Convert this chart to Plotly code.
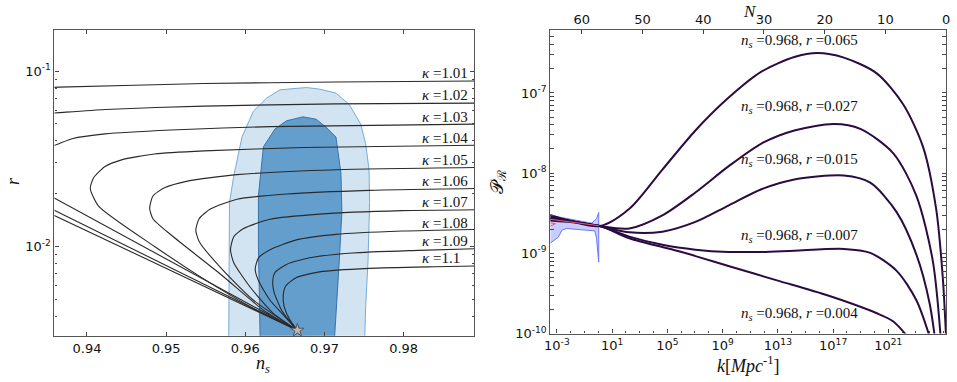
import plotly.graph_objects as go

# ---------------- Left panel data (n_s , r) ----------------
kappa_labels = ["1.01", "1.02", "1.03", "1.04", "1.05", "1.06", "1.07", "1.08", "1.09", "1.1"]
star_ns, star_r = 0.96658, 0.00332

# curves: upper branch (from right edge towards turning point) then lower branch to the star
k101_ns = [0.98896, 0.97146, 0.95479, 0.93646, 0.9355, None, 0.9355, star_ns]
k101_r = [0.0879, 0.0868, 0.0850, 0.0811, 0.0808, None, 0.0193, star_r]
k102_ns = [0.98896, 0.97146, 0.95479, 0.94229, 0.93646, 0.9355, None, 0.9355, star_ns]
k102_r = [0.0657, 0.0651, 0.0632, 0.0605, 0.0580, 0.0576, None, 0.0164, star_r]
k103_ns = [0.98896, 0.96313, 0.95063, 0.94229, 0.93813, 0.93646, 0.9355, None, 0.9355, star_ns]
k103_r = [0.0499, 0.0483, 0.0462, 0.0439, 0.0412, 0.0386, 0.0372, None, 0.0153, star_r]
k104_ns = [0.98896, 0.96729, 0.95479, 0.94854, 0.94438, 0.94229, 0.94083, 0.94042, 0.94146, 0.94854, 0.95479, 0.96104, star_ns]
k104_r = [0.0378, 0.0367, 0.0351, 0.0337, 0.0312, 0.0286, 0.0246, 0.0214, 0.0170, 0.0100, 0.00651, 0.00443, star_r]
k105_ns = [0.98896, 0.97146, 0.95896, 0.95271, 0.94979, 0.94833, 0.94792, 0.94833, 0.95063, 0.95688, 0.96229, star_ns]
k105_r = [0.0282, 0.0274, 0.0257, 0.0236, 0.0216, 0.0194, 0.0165, 0.0144, 0.01162, 0.00694, 0.00433, star_r]
k106_ns = [0.98896, 0.97563, 0.96521, 0.95896, 0.95563, 0.95417, 0.95375, 0.95417, 0.95688, 0.96104, star_ns]
k106_r = [0.0214, 0.0209, 0.0199, 0.0186, 0.0164, 0.0144, 0.01239, 0.01067, 0.00757, 0.00493, star_r]
k107_ns = [0.98896, 0.97979, 0.96938, 0.96313, 0.95979, 0.95854, 0.95813, 0.95854, 0.96063, 0.96354, star_ns]
k107_r = [0.0162, 0.0160, 0.0153, 0.0143, 0.01266, 0.01137, 0.00958, 0.00807, 0.00585, 0.00415, star_r]
k108_ns = [0.98896, 0.97979, 0.97146, 0.96646, 0.96313, 0.96167, 0.96125, 0.96167, 0.96313, 0.9650, star_ns]
k108_r = [0.0125, 0.01224, 0.01172, 0.0109, 0.00958, 0.00861, 0.00741, 0.00637, 0.00493, 0.00398, star_r]
k109_ns = [0.98896, 0.98188, 0.97354, 0.96813, 0.96521, 0.96375, 0.96346, 0.96363, 0.96458, 0.96563, star_ns]
k109_r = [0.00971, 0.0095, 0.00918, 0.00861, 0.0079, 0.0071, 0.00624, 0.00549, 0.00433, 0.00373, star_r]
k110_ns = [0.98896, 0.98396, 0.97563, 0.96938, 0.96646, 0.96513, 0.96479, 0.96492, 0.96563, star_ns]
k110_r = [0.00773, 0.00766, 0.0075, 0.00716, 0.00665, 0.00597, 0.00526, 0.00452, 0.00381, star_r]

kappa_curves = [(k101_ns, k101_r), (k102_ns, k102_r), (k103_ns, k103_r), (k104_ns, k104_r),
                (k105_ns, k105_r), (k106_ns, k106_r), (k107_ns, k107_r), (k108_ns, k108_r),
                (k109_ns, k109_r), (k110_ns, k110_r)]
kappa_label_logr = [-1.013, -1.138, -1.259, -1.384, -1.507, -1.628, -1.749, -1.864, -1.969, -2.066]

outer_ns = [0.95791, 0.95791, 0.95800, 0.95854, 0.95958, 0.96104, 0.96270, 0.96438, 0.96770, 0.96938,
            0.97146, 0.97313, 0.97458, 0.97520, 0.97563, 0.97570, 0.97550, 0.97520, 0.97508]
outer_r = [0.0029, 0.0100, 0.0178, 0.0252, 0.0421, 0.0593, 0.0703, 0.0783, 0.0807, 0.0790,
           0.0750, 0.0645, 0.0499, 0.0386, 0.0274, 0.0178, 0.0082, 0.0045, 0.0029]
inner_ns = [0.96188, 0.96166, 0.96166, 0.96229, 0.96375, 0.96520, 0.96729, 0.96895, 0.97020,
            0.97145, 0.97208, 0.97220, 0.97187, 0.97125]
inner_r = [0.0029, 0.0100, 0.0195, 0.0370, 0.0468, 0.0521, 0.0549, 0.0532, 0.0479,
           0.0421, 0.0262, 0.0157, 0.00824, 0.0029]

# ---------------- Right panel data (log10 k , log10 P_R) ----------------
r_labels = ["0.065", "0.027", "0.015", "0.007", "0.004"]
lk_065 = [-3.48, 0.10, 2.25, 4.64, 7.03, 9.42, 11.81, 14.19, 15.87, 17.78, 20.16, 22.07, 23.51, 24.46, 24.94, 25.25]
lp_065 = [-8.52, -8.66, -8.445, -7.956, -7.468, -7.061, -6.735, -6.552, -6.503, -6.56, -6.756, -7.142, -7.672, -8.445, -9.30, -10.3]
lk_027 = [-3.48, 0.10, 2.25, 4.64, 7.03, 9.42, 11.81, 14.19, 17.06, 18.97, 21.36, 23.03, 24.22, 24.90]
lp_027 = [-8.54, -8.66, -8.689, -8.526, -8.241, -7.916, -7.631, -7.468, -7.387, -7.448, -7.753, -8.282, -9.096, -10.3]
lk_015 = [-3.48, 0.10, 2.25, 4.64, 7.03, 9.42, 11.81, 14.19, 17.78, 19.69, 21.60, 23.03, 23.99, 24.55]
lp_015 = [-8.555, -8.66, -8.738, -8.730, -8.608, -8.404, -8.201, -8.079, -8.030, -8.119, -8.486, -9.015, -9.625, -10.3]
lk_007 = [-3.48, 0.10, 2.25, 4.64, 7.03, 9.42, 11.81, 14.19, 17.78, 19.69, 21.60, 23.03, 24.10]
lp_007 = [-8.57, -8.66, -8.791, -8.893, -8.954, -8.982, -8.982, -8.966, -8.945, -8.994, -9.218, -9.584, -10.1]
lk_004 = [-3.48, 0.10, 2.25, 5.84, 9.42, 13.00, 16.58, 20.16, 21.36, 22.45]
lp_004 = [-8.59, -8.66, -8.811, -8.974, -9.157, -9.340, -9.523, -9.747, -9.849, -10.05]
spectra = [(lk_065, lp_065), (lk_027, lp_027), (lk_015, lp_015), (lk_007, lp_007), (lk_004, lp_004)]
label_logp = [-6.357, -7.171, -7.842, -8.779, -9.755]

band_lk = [-3.48, -2.52, -1.33, -0.47, -0.13, 0.03, 0.03, -0.13, -0.25, -1.33, -2.30, -2.62, -2.9, -3.48]
band_lp = [-8.526, -8.559, -8.600, -8.624, -8.567, -8.49, -9.11, -8.811, -8.72, -8.70, -8.69, -8.709, -8.80, -8.872]
red1_lk = [-3.48, 0.03]
red1_lp = [-8.575, -8.655]
red2_lk = [-3.48, -3.10, -3.48]
red2_lp = [-8.62, -8.63, -8.66]

N_ticks = [60, 50, 40, 30, 20, 10, 0]
k_tick_exp = [-3, 1, 5, 9, 13, 17, 21]


def pw(vals):
    return [10.0 ** v for v in vals]


# ---------------- Figure ----------------
fig = go.Figure()

fig.add_trace(go.Scatter(x=outer_ns, y=outer_r, fill="toself", fillcolor="rgb(210,227,241)",
                         line=dict(color="rgb(120,172,214)", width=1), mode="lines",
                         xaxis="x", yaxis="y", showlegend=False, hoverinfo="skip"))
fig.add_trace(go.Scatter(x=inner_ns, y=inner_r, fill="toself", fillcolor="rgb(100,158,204)",
                         line=dict(color="rgb(55,115,170)", width=1), mode="lines",
                         xaxis="x", yaxis="y", showlegend=False, hoverinfo="skip"))
for cx, cy in kappa_curves:
    fig.add_trace(go.Scatter(x=cx, y=cy, mode="lines", line=dict(color="#2a2a2a", width=1.1, shape="spline", smoothing=0.6),
                             connectgaps=False, xaxis="x", yaxis="y", showlegend=False, hoverinfo="skip"))
fig.add_trace(go.Scatter(x=[star_ns], y=[star_r], mode="markers",
                         marker=dict(symbol="star", size=10, color="#b8b8b8", line=dict(color="#555", width=1)),
                         cliponaxis=False, xaxis="x", yaxis="y", showlegend=False, hoverinfo="skip"))

fig.add_trace(go.Scatter(x=pw(band_lk), y=pw(band_lp), fill="toself",
                         fillcolor="rgba(120,130,250,0.40)", line=dict(color="rgb(110,120,240)", width=1),
                         mode="lines", xaxis="x2", yaxis="y2", showlegend=False, hoverinfo="skip"))
for lk, lp in spectra:
    fig.add_trace(go.Scatter(x=pw(lk), y=pw(lp), mode="lines",
                             line=dict(color="#2b0c40", width=2, shape="spline", smoothing=0.8),
                             xaxis="x2", yaxis="y2", showlegend=False, hoverinfo="skip"))
fig.add_trace(go.Scatter(x=pw(red1_lk), y=pw(red1_lp), mode="lines", hoverinfo="skip",
                         line=dict(color="rgb(235,90,110)", width=1), xaxis="x2", yaxis="y2", showlegend=False))
fig.add_trace(go.Scatter(x=pw(red2_lk), y=pw(red2_lp), mode="lines", hoverinfo="skip",
                         line=dict(color="rgb(235,90,110)", width=1), xaxis="x2", yaxis="y2", showlegend=False))
# empty trace so that the top N axis is drawn
fig.add_trace(go.Scatter(x=[], y=[], xaxis="x3", yaxis="y2", showlegend=False, hoverinfo="skip"))

tickfont = dict(family="DejaVu Sans", size=13, color="#111")
axcommon = dict(showgrid=False, zeroline=False, showline=True, linecolor="#555", linewidth=1.2,
                ticks="inside", tickcolor="#444", ticklen=4, tickwidth=1, tickfont=tickfont)

left_minor = [m * 10.0 ** e for e in (-3, -2) for m in range(2, 10)]
fig.update_layout(
    width=957, height=382, margin=dict(l=0, r=0, t=0, b=0),
    paper_bgcolor="white", plot_bgcolor="white", hovermode=False,
    xaxis=dict(domain=[0.0512, 0.4943], range=[0.9359, 0.9889], anchor="y",
               tickvals=[0.94, 0.95, 0.96, 0.97, 0.98], ticktext=["0.94", "0.95", "0.96", "0.97", "0.98"],
               mirror="allticks", **axcommon),
    yaxis=dict(domain=[0.1021, 0.9188], type="log", range=[-2.51, -0.767], anchor="x",
               tickvals=[0.01, 0.1], ticktext=["10<sup>-2</sup>", "10<sup>-1</sup>"],
               minor=dict(tickvals=left_minor, ticks="inside", ticklen=2.5, tickcolor="#444"),
               mirror="allticks", **axcommon),
    xaxis2=dict(domain=[0.5747, 0.9927], type="log", range=[-3.48, 25.18], anchor="y2",
                tickvals=pw(k_tick_exp),
                ticktext=["10<sup>%d</sup>" % e for e in k_tick_exp],
                minor=dict(tickvals=pw(range(-3, 26)), ticks="inside", ticklen=2.5, tickcolor="#444"),
                mirror=False, **axcommon),
    yaxis2=dict(domain=[0.1081, 0.9188], type="log", range=[-10, -6.22], anchor="x2",
                tickvals=pw([-10, -9, -8, -7]),
                ticktext=["10<sup>-10</sup>", "10<sup>-9</sup>", "10<sup>-8</sup>", "10<sup>-7</sup>"],
                minor=dict(tickvals=[m * 10.0 ** e for e in range(-10, -6) for m in range(2, 10)],
                           ticks="inside", ticklen=2.5, tickcolor="#444"),
                mirror="allticks", **axcommon),
    xaxis3=dict(overlaying="x2", side="top", anchor="y2", range=[65.2, 0],
                tickvals=N_ticks, ticktext=[str(v) for v in N_ticks], **axcommon),
)

annots = []
serif = "Liberation Serif"
for lab, ly in zip(kappa_labels, kappa_label_logr):
    annots.append(dict(x=0.9821, y=ly, xref="x", yref="y", text="<i>κ</i> =" + lab, showarrow=False,
                       xanchor="left", yanchor="middle", font=dict(family=serif, size=15, color="#111")))
for lab, ly in zip(r_labels, label_logp):
    annots.append(dict(x=10.2, y=ly, xref="x2", yref="y2",
                       text="<i>n<sub>s</sub></i> =0.968, <i>r</i> =" + lab, showarrow=False,
                       xanchor="left", yanchor="middle", font=dict(family=serif, size=15, color="#111")))
titles = [
    (7, 185, "<i>r</i>", -90, "middle", 18),
    (260, 372, "<i>n<sub>s</sub></i>", 0, "middle", 18),
    (497, 186, "𝒫<sub>ℛ</sub>", -90, "middle", 18),
    (750, 372, "<i>k</i>[<i>Mpc</i><sup>-1</sup>]", 0, "middle", 18),
    (752, 0, "<i>N</i>", 0, "top", 17),
]
for px, py, t, ang, ya, fs in titles:
    annots.append(dict(x=px / 957, y=1 - py / 382, xref="paper", yref="paper", text=t, showarrow=False,
                       xanchor="center", yanchor=ya, textangle=ang,
                       font=dict(family=serif, size=fs, color="#111")))
fig.update_layout(annotations=annots)

fig.write_html("out.html", config={"displayModeBar": False},
               post_script="document.body.style.margin='0';")
